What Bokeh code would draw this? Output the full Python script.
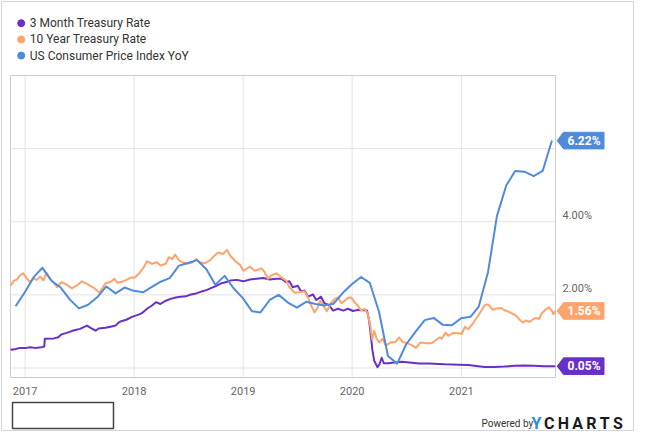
import numpy as np
import pandas as pd
from bokeh.plotting import figure
from bokeh.models import Range1d
from bokeh.core.properties import value
from bokeh.embed import file_html
from bokeh.resources import INLINE

# ---------------- data ----------------
series_names = ["3 Month Treasury Rate", "10 Year Treasury Rate", "US Consumer Price Index YoY"]
series_colors = ["#6930c8", "#ffa36c", "#4f8bda"]
year_ticks = ["2017-01-01", "2018-01-01", "2019-01-01", "2020-01-01", "2021-01-01"]
year_labels = ["2017", "2018", "2019", "2020", "2021"]
y_tick_values = [0, 2, 4, 6]
y_tick_labels = ["2.00%", "4.00%"]
y_tick_label_values = [2, 4]
last_labels = ["0.05%", "1.56%", "6.22%"]
last_values = [0.05, 1.56, 6.22]

cpi_dates = [
    "2016-11-30", "2016-12-31",
    "2017-01-31", "2017-02-28", "2017-03-31", "2017-04-30", "2017-05-31", "2017-06-30",
    "2017-07-31", "2017-08-31", "2017-09-30", "2017-10-31", "2017-11-30", "2017-12-31",
    "2018-01-31", "2018-02-28", "2018-03-31", "2018-04-30", "2018-05-31", "2018-06-30",
    "2018-07-31", "2018-08-31", "2018-09-30", "2018-10-31", "2018-11-30", "2018-12-31",
    "2019-01-31", "2019-02-28", "2019-03-31", "2019-04-30", "2019-05-31", "2019-06-30",
    "2019-07-31", "2019-08-31", "2019-09-30", "2019-10-31", "2019-11-30", "2019-12-31",
    "2020-01-31", "2020-02-29", "2020-03-31", "2020-04-30", "2020-05-31", "2020-06-30",
    "2020-07-31", "2020-08-31", "2020-09-30", "2020-10-31", "2020-11-30", "2020-12-31",
    "2021-01-31", "2021-02-28", "2021-03-31", "2021-04-30", "2021-05-31", "2021-06-30",
    "2021-07-31", "2021-08-31", "2021-09-30", "2021-10-31",
]
cpi_values = [
    1.69, 2.07,
    2.50, 2.74, 2.38, 2.20, 1.87, 1.63, 1.73, 1.94, 2.23, 2.04, 2.20, 2.11,
    2.07, 2.21, 2.36, 2.46, 2.80, 2.87, 2.95, 2.70, 2.28, 2.52, 2.18, 1.91,
    1.55, 1.52, 1.86, 2.00, 1.79, 1.65, 1.81, 1.75, 1.71, 1.76, 2.05, 2.29,
    2.49, 2.33, 1.54, 0.33, 0.12, 0.65, 0.99, 1.31, 1.37, 1.18, 1.17, 1.36,
    1.40, 1.68, 2.62, 4.16, 4.99, 5.39, 5.37, 5.25, 5.39, 6.22,
]

t10_dates = [
    "2016-11-14", "2016-11-17", "2016-11-25", "2016-12-05", "2016-12-14", "2016-12-26",
    "2017-01-07", "2017-01-18", "2017-01-29", "2017-02-09", "2017-02-21", "2017-03-03",
    "2017-03-14", "2017-03-24", "2017-04-05", "2017-04-18", "2017-05-03", "2017-05-20",
    "2017-06-06", "2017-06-23", "2017-07-10", "2017-07-27", "2017-08-18", "2017-09-07",
    "2017-09-27", "2017-10-14", "2017-10-27", "2017-11-07", "2017-11-19", "2017-12-06",
    "2017-12-23", "2018-01-02", "2018-01-16", "2018-02-02", "2018-02-13", "2018-03-02",
    "2018-03-19", "2018-03-30", "2018-04-17", "2018-04-27", "2018-05-09", "2018-05-18",
    "2018-06-01", "2018-06-12", "2018-06-29", "2018-07-16", "2018-07-28", "2018-08-08",
    "2018-08-25", "2018-09-11", "2018-09-28", "2018-10-09", "2018-10-26", "2018-11-08",
    "2018-11-19", "2018-12-06", "2018-12-22", "2019-01-02", "2019-01-13", "2019-01-24",
    "2019-02-09", "2019-02-21", "2019-03-03", "2019-03-14", "2019-03-25", "2019-04-05",
    "2019-04-22", "2019-05-09", "2019-05-25", "2019-06-05", "2019-06-22", "2019-07-09",
    "2019-07-26", "2019-08-06", "2019-08-17", "2019-08-28", "2019-09-08", "2019-09-16",
    "2019-09-30", "2019-10-08", "2019-10-22", "2019-11-04", "2019-11-15", "2019-11-26",
    "2019-12-07", "2019-12-18", "2019-12-29", "2020-01-09", "2020-01-20", "2020-01-31",
    "2020-02-11", "2020-02-21", "2020-03-01", "2020-03-08", "2020-03-15", "2020-03-23",
    "2020-04-01", "2020-04-12", "2020-04-23", "2020-05-09", "2020-05-26", "2020-06-06",
    "2020-06-17", "2020-07-03", "2020-07-20", "2020-08-02", "2020-08-17", "2020-09-02",
    "2020-09-24", "2020-10-10", "2020-10-21", "2020-10-27", "2020-11-09", "2020-11-18",
    "2020-12-05", "2020-12-22", "2021-01-02", "2021-01-13", "2021-01-24", "2021-02-04",
    "2021-02-15", "2021-02-26", "2021-03-09", "2021-03-20", "2021-03-30", "2021-04-05",
    "2021-04-16", "2021-04-27", "2021-05-14", "2021-05-25", "2021-06-05", "2021-06-22",
    "2021-07-03", "2021-07-14", "2021-07-25", "2021-08-05", "2021-08-16", "2021-08-27",
    "2021-09-07", "2021-09-18", "2021-09-27", "2021-10-10", "2021-10-21", "2021-11-01",
    "2021-11-05", "2021-11-11",
]
t10_values = [
    2.25, 2.30, 2.39, 2.42, 2.53, 2.59,
    2.44, 2.35, 2.46, 2.41, 2.50, 2.40,
    2.60, 2.45, 2.35, 2.21, 2.35, 2.28,
    2.18, 2.25, 2.37, 2.30, 2.20, 2.06,
    2.32, 2.35, 2.44, 2.33, 2.35, 2.41,
    2.48, 2.47, 2.57, 2.75, 2.92, 2.85,
    2.89, 2.80, 2.85, 3.03, 2.98, 3.10,
    2.94, 2.89, 2.85, 2.89, 2.98, 2.89,
    2.86, 2.94, 3.08, 3.16, 3.12, 3.23,
    3.07, 2.92, 2.82, 2.66, 2.72, 2.77,
    2.66, 2.69, 2.73, 2.62, 2.44, 2.53,
    2.59, 2.48, 2.39, 2.21, 2.06, 2.07,
    2.10, 1.93, 1.71, 1.52, 1.66, 1.84,
    1.66, 1.55, 1.77, 1.89, 1.93, 1.77,
    1.84, 1.92, 1.93, 1.80, 1.71, 1.57,
    1.62, 1.52, 1.20, 0.78, 1.02, 0.80,
    0.70, 0.80, 0.61, 0.70, 0.72, 0.84,
    0.72, 0.68, 0.62, 0.55, 0.70, 0.68,
    0.68, 0.78, 0.84, 0.80, 0.97, 0.88,
    0.96, 0.95, 0.93, 1.13, 1.06, 1.17,
    1.30, 1.43, 1.58, 1.72, 1.74, 1.70,
    1.59, 1.63, 1.64, 1.58, 1.55, 1.48,
    1.43, 1.33, 1.24, 1.30, 1.26, 1.32,
    1.37, 1.34, 1.50, 1.60, 1.66, 1.55,
    1.47, 1.56,
]

t3m_dates = [
    "2016-11-14", "2016-11-17", "2016-12-01", "2016-12-14", "2017-01-05", "2017-01-18",
    "2017-02-03", "2017-02-25", "2017-03-06", "2017-03-08", "2017-04-07", "2017-04-22",
    "2017-05-03", "2017-05-20", "2017-06-06", "2017-06-18", "2017-07-04", "2017-07-27",
    "2017-08-08", "2017-08-25", "2017-09-04", "2017-09-27", "2017-10-14", "2017-10-31",
    "2017-11-11", "2017-11-19", "2017-12-06", "2017-12-23", "2018-01-01", "2018-01-16",
    "2018-01-27", "2018-02-13", "2018-03-02", "2018-03-15", "2018-03-30", "2018-04-17",
    "2018-05-03", "2018-05-20", "2018-06-06", "2018-06-23", "2018-07-10", "2018-07-28",
    "2018-08-14", "2018-08-31", "2018-09-17", "2018-10-04", "2018-10-21", "2018-11-06",
    "2018-11-19", "2018-12-11", "2019-01-02", "2019-01-24", "2019-02-15", "2019-03-09",
    "2019-03-31", "2019-04-22", "2019-05-09", "2019-05-25", "2019-06-05", "2019-06-16",
    "2019-07-03", "2019-07-14", "2019-07-26", "2019-08-06", "2019-08-23", "2019-09-03",
    "2019-09-19", "2019-09-30", "2019-10-17", "2019-10-29", "2019-11-15", "2019-12-02",
    "2019-12-18", "2020-01-04", "2020-01-20", "2020-02-07", "2020-02-20", "2020-02-27",
    "2020-03-03", "2020-03-09", "2020-03-15", "2020-03-26", "2020-04-02", "2020-04-09",
    "2020-04-16", "2020-05-03", "2020-05-26", "2020-06-17", "2020-07-10", "2020-08-12",
    "2020-09-14", "2020-10-17", "2020-11-07", "2020-12-22", "2021-01-24", "2021-02-26",
    "2021-03-20", "2021-04-22", "2021-05-25", "2021-06-28", "2021-07-31", "2021-09-02",
    "2021-10-05", "2021-11-11",
]
t3m_values = [
    0.52, 0.50, 0.52, 0.55, 0.55, 0.57,
    0.55, 0.57, 0.59, 0.80, 0.81, 0.84,
    0.92, 0.96, 1.01, 1.04, 1.07, 1.16,
    1.10, 1.02, 1.08, 1.10, 1.13, 1.16,
    1.25, 1.28, 1.32, 1.39, 1.42, 1.46,
    1.50, 1.62, 1.71, 1.80, 1.75, 1.84,
    1.89, 1.93, 1.95, 1.96, 2.01, 2.04,
    2.09, 2.13, 2.19, 2.25, 2.32, 2.35,
    2.39, 2.41, 2.37, 2.42, 2.44, 2.46,
    2.42, 2.44, 2.44, 2.35, 2.37, 2.21,
    2.25, 2.09, 2.12, 1.95, 2.01, 1.86,
    1.95, 1.77, 1.71, 1.57, 1.62, 1.57,
    1.62, 1.56, 1.59, 1.58, 1.57, 1.30,
    0.93, 0.48, 0.20, 0.02, 0.11, 0.28,
    0.13, 0.13, 0.16, 0.17, 0.15, 0.12,
    0.12, 0.11, 0.10, 0.09, 0.08, 0.05,
    0.03, 0.03, 0.04, 0.06, 0.07, 0.06,
    0.05, 0.05,
]

x_start, x_end = "2016-11-13", "2021-11-12"
y_start, y_end = -0.26, 8.0

# ---------------- layout helpers ----------------
W, H = 634, 431
PL, PT, PW, PH = 10, 75, 545, 302   # plot area in picture pixels


def to_ms(s):
    return pd.Timestamp(s).value / 1e6


x0, x1 = to_ms(x_start), to_ms(x_end)
dxp = (x1 - x0) / PW
dyp = (y_end - y_start) / PH


def fx(px):  # picture pixel -> data x
    return x0 + (px - PL) * dxp


def fy(py):  # picture pixel -> data y
    return y_end - (py - PT) * dyp


p = figure(width=W, height=H, x_axis_location=None, y_axis_location=None,
           x_range=Range1d(fx(0), fx(W)), y_range=Range1d(fy(H), fy(0)),
           output_backend="svg", toolbar_location=None,
           min_border=0, min_border_left=0, min_border_right=0, min_border_top=0, min_border_bottom=0)
p.background_fill_color = "white"
p.border_fill_color = "white"
p.outline_line_color = None
p.grid.visible = False

# outer chart border
p.quad(left=[fx(1)], right=[fx(W - 1)], top=[fy(1)], bottom=[fy(H - 1)],
       fill_color=None, line_color="#d4d4d4", line_width=1)

# grid and plot-area border
tick_ms = [to_ms(t) for t in year_ticks]
p.segment(x0=tick_ms, y0=[y_start] * len(tick_ms), x1=tick_ms, y1=[y_end] * len(tick_ms),
          line_color="#e3e3e3", line_width=1)
p.segment(x0=[x0] * len(y_tick_values), y0=y_tick_values, x1=[x1] * len(y_tick_values), y1=y_tick_values,
          line_color="#e3e3e3", line_width=1)
p.quad(left=[x0], right=[x1], bottom=[y_start], top=[y_end], fill_color=None, line_color="#cccccc", line_width=1)

# series
series = [(t3m_dates, t3m_values), (t10_dates, t10_values), (cpi_dates, cpi_values)]
for (d, v), c in zip(series, series_colors):
    p.line([to_ms(s) for s in d], v, line_color=c, line_width=2, line_join="round")

# x labels
p.text(x=tick_ms, y=[fy(390.5)] * len(tick_ms), text=year_labels, text_font=value("Roboto"),
       text_font_size="11px", text_color="#666666", text_align="center", text_baseline="middle")

# right axis labels
p.text(x=[fx(562)] * len(y_tick_labels), y=[v + 6.2 * dyp for v in y_tick_label_values], text=y_tick_labels,
       text_font=value("Roboto"), text_font_size="11px", text_color="#666666",
       text_align="left", text_baseline="middle")

# last-value badges
hh = 8.3 * dyp
bxs, bys = [], []
for yv in last_values:
    bxs.append([fx(556.7), fx(563), fx(603.5), fx(603.5), fx(563)])
    bys.append([yv, yv + hh, yv + hh, yv - hh, yv - hh])
p.patches(xs=bxs, ys=bys, fill_color=series_colors, line_color=series_colors, line_width=1)
p.text(x=[fx(583.5)] * 3, y=last_values, text=last_labels, text_font=value("Roboto"), text_font_size="12px",
       text_font_style="bold", text_color="white", text_align="center", text_baseline="middle")

# legend
leg_y = [fy(22.7 + i * 16.2) for i in range(3)]
p.scatter(x=[fx(20.7)] * 3, y=leg_y, size=7, fill_color=series_colors, line_color=series_colors)
p.text(x=[fx(29.3)] * 3, y=leg_y, text=series_names, text_font=value("Roboto"), text_font_size="12px",
       text_color="#333333", text_align="left", text_baseline="middle")

# navigator box
p.quad(left=[fx(12)], right=[fx(113)], top=[fy(402)], bottom=[fy(428)],
       fill_color="white", line_color="#444444", line_width=1.5)

# branding
p.text(x=[fx(481)], y=[fy(423)], text=["Powered by"], text_font=value("Roboto"), text_font_size="10px",
       text_color="#333333", text_align="left", text_baseline="middle")
p.text(x=[fx(531)], y=[fy(422.5)], text=["Y"], text_font=value("Roboto"), text_font_size="16px",
       text_font_style="bold", text_color="#1e8ee6", text_align="left", text_baseline="middle")
p.text(x=[fx(543.5)], y=[fy(422.5)], text=["C\u2009H\u2009A\u2009R\u2009T\u2009S"], text_font=value("Roboto"),
       text_font_size="16px", text_font_style="bold", text_color="#1a1a1a",
       text_align="left", text_baseline="middle")

open("out.html", "w").write(file_html(p, INLINE))
